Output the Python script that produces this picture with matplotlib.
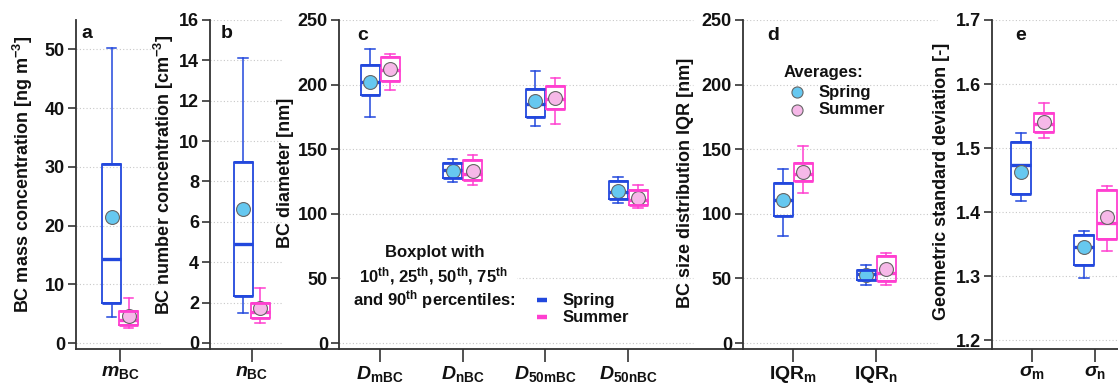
import numpy as np
import matplotlib
matplotlib.use("Agg")
import matplotlib.pyplot as plt
from matplotlib.lines import Line2D
from matplotlib.patches import Rectangle

plt.rcParams['font.family'] = ['Liberation Sans', 'DejaVu Sans']
plt.rcParams['font.weight'] = 'bold'
plt.rcParams['mathtext.fontset'] = 'custom'
plt.rcParams['mathtext.rm'] = 'Liberation Sans:bold'
plt.rcParams['mathtext.it'] = 'Liberation Sans:italic:bold'
plt.rcParams['mathtext.bf'] = 'Liberation Sans:bold'

# ---- data: each row = [p10, p25, p50, p75, p90, mean] ----
cats_a = [r'$m_{\mathrm{BC}}$']
spring_a = [[4.4, 6.8, 14.3, 30.5, 50.2, 21.5]]
summer_a = [[2.55, 3.1, 3.96, 5.55, 7.65, 4.7]]

cats_b = [r'$n_{\mathrm{BC}}$']
spring_b = [[1.47, 2.31, 4.9, 8.94, 14.14, 6.63]]
summer_b = [[1.0, 1.22, 1.55, 1.97, 2.71, 1.72]]

cats_c = [r'$D_{\mathrm{mBC}}$', r'$D_{\mathrm{nBC}}$', r'$D_{\mathrm{50mBC}}$', r'$D_{\mathrm{50nBC}}$']
spring_c = [[175.1, 191.7, 202.3, 215.5, 227.5, 202.3],
            [125.0, 128.0, 134.0, 139.0, 142.2, 133.4],
            [168.1, 175.1, 184.7, 196.9, 210.6, 187.3],
            [108.5, 111.7, 117.1, 125.4, 128.2, 117.9]]
summer_c = [[195.9, 202.6, 211.0, 221.0, 224.0, 211.7],
            [122.5, 126.2, 130.6, 141.7, 145.6, 133.4],
            [169.4, 180.8, 189.1, 198.7, 205.2, 189.4],
            [104.4, 107.0, 110.6, 118.7, 122.3, 112.2]]

cats_d = [r'$\mathrm{IQR}_{\mathrm{m}}$', r'$\mathrm{IQR}_{\mathrm{n}}$']
spring_d = [[82.6, 98.4, 110.6, 124.1, 134.7, 110.6],
            [44.8, 49.0, 53.4, 56.2, 60.4, 52.8]]
summer_d = [[115.8, 125.6, 131.1, 139.4, 152.3, 132.6],
            [44.6, 48.4, 54.1, 67.4, 69.9, 57.5]]

cats_e = [r'$σ_{\mathrm{m}}$', r'$σ_{\mathrm{n}}$']
spring_e = [[1.418, 1.428, 1.474, 1.509, 1.524, 1.463],
            [1.297, 1.318, 1.346, 1.364, 1.370, 1.346]]
summer_e = [[1.515, 1.525, 1.538, 1.555, 1.570, 1.540],
            [1.339, 1.358, 1.383, 1.434, 1.440, 1.393]]

yticks_a = [0, 10, 20, 30, 40, 50]
yticks_b = [0, 2, 4, 6, 8, 10, 12, 14, 16]
yticks_c = [0, 50, 100, 150, 200, 250]
yticks_d = [0, 50, 100, 150, 200, 250]
yticks_e = [1.2, 1.3, 1.4, 1.5, 1.6, 1.7]

ylabels = ['BC mass concentration [ng m$^{-3}$]',
           'BC number concentration [cm$^{-3}$]',
           'BC diameter [nm]',
           'BC size distribution IQR [nm]',
           'Geometric standard deviation [-]']

# ---- style ----
C_SPRING = '#2248dd'
C_SUMMER = '#ff3fd0'
F_SPRING = '#66c8f0'
F_SUMMER = '#f6b8e8'
SPINE = '#333333'
W, H = 1118, 388

fig = plt.figure(figsize=(W / 100, H / 100), dpi=100)

def fx(px):
    return px / W

def fy(py):
    return 1 - py / H

top_px, bot_px = 20, 349
panels = [
    dict(l=76, r=210, t0=120, step=82.5, off=8.5, bw=19, cats=cats_a, sp=spring_a, su=summer_a,
         yt=yticks_a, ylim=(-1.0, 55), letter='a', grid_r=160, lab=(23, 174), fmt='%d'),
    dict(l=210, r=339, t0=251.7, step=82.5, off=8.5, bw=19, cats=cats_b, sp=spring_b, su=summer_b,
         yt=yticks_b, ylim=(-0.3, 16), letter='b', grid_r=282, lab=(164, 175), fmt='%d'),
    dict(l=339, r=743, t0=380, step=82.7, off=10, bw=19, cats=cats_c, sp=spring_c, su=summer_c,
         yt=yticks_c, ylim=(-4.6, 250), letter='c', grid_r=693, lab=(285, 173), fmt='%d'),
    dict(l=743, r=992, t0=793, step=83, off=10, bw=19, cats=cats_d, sp=spring_d, su=summer_d,
         yt=yticks_d, ylim=(-4.6, 250), letter='d', grid_r=937, lab=(685, 183), fmt='%d'),
    dict(l=992, r=1132, t0=1032, step=63, off=11.5, bw=20, cats=cats_e, sp=spring_e, su=summer_e,
         yt=yticks_e, ylim=(1.186, 1.7), letter='e', grid_r=1132, lab=(942, 181), fmt='%.1f'),
]
letter_px = {'a': (87, 33), 'b': (227, 33), 'c': (363, 35), 'd': (773, 35), 'e': (1021, 35)}

def stats(rows):
    out = []
    for p10, p25, p50, p75, p90, mn in rows:
        out.append(dict(whislo=p10, q1=p25, med=p50, q3=p75, whishi=p90, mean=mn, fliers=[]))
    return out

for i, p in enumerate(panels):
    ax = fig.add_axes([fx(p['l']), fy(bot_px), fx(p['r'] - p['l']), (bot_px - top_px) / H])
    ax.patch.set_alpha(0)
    n = len(p['cats'])
    ax.set_xlim((p['l'] - p['t0']) / p['step'], (p['r'] - p['t0']) / p['step'])
    ax.set_ylim(*p['ylim'])
    off = p['off'] / p['step']
    bw = p['bw'] / p['step']
    pos = np.arange(n)
    for rows, sgn, col, fcol in [(p['sp'], -1, C_SPRING, F_SPRING), (p['su'], 1, C_SUMMER, F_SUMMER)]:
        ax.bxp(stats(rows), positions=pos + sgn * off, widths=bw, capwidths=bw * 0.5,
               showmeans=True, showfliers=False, manage_ticks=False,
               boxprops=dict(color=col, lw=1.3),
               whiskerprops=dict(color=col, lw=1.1),
               capprops=dict(color=col, lw=1.1),
               medianprops=dict(color=col, lw=2.4, solid_capstyle='butt'),
               meanprops=dict(marker='o', markerfacecolor=fcol, markeredgecolor='#666666',
                              markeredgewidth=0.8, markersize=10))
        q = np.array(rows)
        ax.hlines(q[:, 1], pos + sgn * off - bw / 2, pos + sgn * off + bw / 2, color=col, lw=2.0, zorder=2.5)
        ax.hlines(q[:, 3], pos + sgn * off - bw / 2, pos + sgn * off + bw / 2, color=col, lw=2.0, zorder=2.5)
    gfrac = (p['grid_r'] - p['l']) / (p['r'] - p['l'])
    for yv in p['yt']:
        ax.axhline(yv, xmin=0, xmax=min(gfrac, 1), color='#c8c8c8', lw=0.8, ls=(0, (1, 2)), zorder=0.5)
    ax.set_yticks(p['yt'])
    ax.set_yticklabels([p['fmt'] % v for v in p['yt']])
    ax.set_xticks(pos)
    ax.set_xticklabels(p['cats'])
    for s in ['top', 'right']:
        ax.spines[s].set_visible(False)
    for s in ['left', 'bottom']:
        ax.spines[s].set_color(SPINE)
        ax.spines[s].set_linewidth(1.3)
    ax.tick_params(axis='y', direction='out', length=6, width=1.2, color=SPINE, pad=2,
                   labelsize=13, labelcolor='#111111')
    ax.tick_params(axis='x', direction='out', length=9, width=1.2, color=SPINE, pad=2,
                   labelsize=14, labelcolor='#111111')
    for t in ax.get_yticklabels() + ax.get_xticklabels():
        t.set_fontweight('bold')
    lx, ly = p['lab']
    fig.text(fx(lx), fy(ly), ylabels[i], rotation=90, ha='center', va='center',
             fontsize=13, fontweight='bold', color='#111111')
    lpx = letter_px[p['letter']]
    fig.text(fx(lpx[0]), fy(lpx[1]), p['letter'], ha='center', va='center',
             fontsize=14, fontweight='bold', color='#111111')

# ---- boxplot legend in panel c (white backing hides the grid line behind it) ----
fig.add_artist(Rectangle((fx(341), fy(287)), fx(517 - 341), (287 - 266) / H,
                         transform=fig.transFigure, facecolor='white', edgecolor='none', zorder=1))
txt_kw = dict(ha='center', va='center', fontsize=12, fontweight='bold', color='#111111', zorder=3)
fig.text(fx(435), fy(252), 'Boxplot with', **txt_kw)
fig.text(fx(433), fy(276), r'10$^{\mathrm{th}}$, 25$^{\mathrm{th}}$, 50$^{\mathrm{th}}$, 75$^{\mathrm{th}}$', **txt_kw)
fig.text(fx(434), fy(300), r'and 90$^{\mathrm{th}}$ percentiles:', **txt_kw)
for yy, col, lab in [(300, C_SPRING, 'Spring'), (317, C_SUMMER, 'Summer')]:
    fig.add_artist(Line2D([fx(537), fx(547)], [fy(yy), fy(yy)], color=col, lw=3.2,
                          solid_capstyle='butt', transform=fig.transFigure))
    fig.text(fx(563), fy(yy), lab, ha='left', va='center', fontsize=12, fontweight='bold', color='#111111')

# ---- averages legend in panel d ----
fig.text(fx(784), fy(73), 'Averages:', ha='left', va='center', fontsize=12, fontweight='bold', color='#111111')
for yy, fcol, lab in [(92, F_SPRING, 'Spring'), (110, F_SUMMER, 'Summer')]:
    fig.add_artist(Line2D([fx(797)], [fy(yy)], marker='o', markersize=8, markerfacecolor=fcol,
                          markeredgecolor='#666666', markeredgewidth=0.8, ls='none',
                          transform=fig.transFigure))
    fig.text(fx(819), fy(yy), lab, ha='left', va='center', fontsize=12, fontweight='bold', color='#111111')

fig.savefig('out.png', dpi=100)
